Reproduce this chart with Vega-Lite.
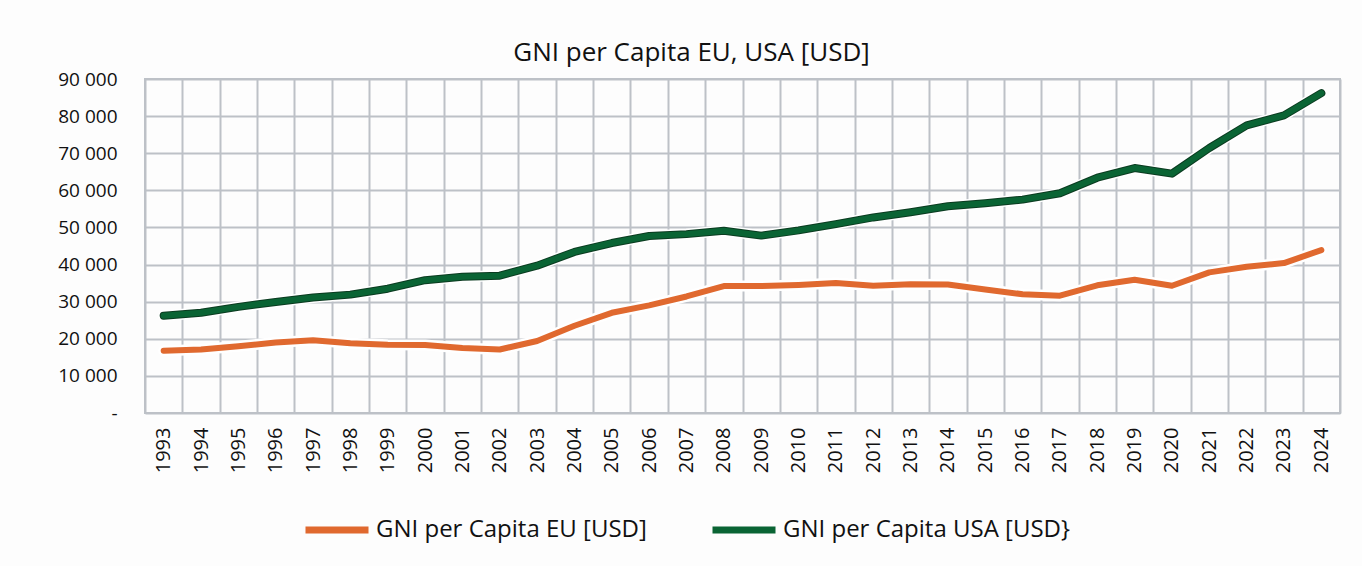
{
  "$schema": "https://vega.github.io/schema/vega-lite/v6.json",
  "width": 1195,
  "height": 334,
  "autosize": {"type": "none"},
  "padding": {"left": 145, "top": 79, "right": 22, "bottom": 153},
  "background": "#fdfdfd",
  "title": {"text": "GNI per Capita EU, USA [USD]", "font": "Open Sans", "fontSize": 26, "fontWeight": "normal", "color": "#111111", "anchor": "middle", "frame": "group", "dx": -51, "offset": 4},
  "data": {"values": [
    {"year": "1993", "series": "GNI per Capita EU [USD]", "value": 16800},
    {"year": "1994", "series": "GNI per Capita EU [USD]", "value": 17100},
    {"year": "1995", "series": "GNI per Capita EU [USD]", "value": 18000},
    {"year": "1996", "series": "GNI per Capita EU [USD]", "value": 19000},
    {"year": "1997", "series": "GNI per Capita EU [USD]", "value": 19600},
    {"year": "1998", "series": "GNI per Capita EU [USD]", "value": 18800},
    {"year": "1999", "series": "GNI per Capita EU [USD]", "value": 18400},
    {"year": "2000", "series": "GNI per Capita EU [USD]", "value": 18300},
    {"year": "2001", "series": "GNI per Capita EU [USD]", "value": 17500},
    {"year": "2002", "series": "GNI per Capita EU [USD]", "value": 17100},
    {"year": "2003", "series": "GNI per Capita EU [USD]", "value": 19400},
    {"year": "2004", "series": "GNI per Capita EU [USD]", "value": 23500},
    {"year": "2005", "series": "GNI per Capita EU [USD]", "value": 27000},
    {"year": "2006", "series": "GNI per Capita EU [USD]", "value": 29000},
    {"year": "2007", "series": "GNI per Capita EU [USD]", "value": 31400},
    {"year": "2008", "series": "GNI per Capita EU [USD]", "value": 34200},
    {"year": "2009", "series": "GNI per Capita EU [USD]", "value": 34200},
    {"year": "2010", "series": "GNI per Capita EU [USD]", "value": 34500},
    {"year": "2011", "series": "GNI per Capita EU [USD]", "value": 35000},
    {"year": "2012", "series": "GNI per Capita EU [USD]", "value": 34300},
    {"year": "2013", "series": "GNI per Capita EU [USD]", "value": 34700},
    {"year": "2014", "series": "GNI per Capita EU [USD]", "value": 34600},
    {"year": "2015", "series": "GNI per Capita EU [USD]", "value": 33300},
    {"year": "2016", "series": "GNI per Capita EU [USD]", "value": 32000},
    {"year": "2017", "series": "GNI per Capita EU [USD]", "value": 31600},
    {"year": "2018", "series": "GNI per Capita EU [USD]", "value": 34400},
    {"year": "2019", "series": "GNI per Capita EU [USD]", "value": 35900},
    {"year": "2020", "series": "GNI per Capita EU [USD]", "value": 34300},
    {"year": "2021", "series": "GNI per Capita EU [USD]", "value": 37900},
    {"year": "2022", "series": "GNI per Capita EU [USD]", "value": 39400},
    {"year": "2023", "series": "GNI per Capita EU [USD]", "value": 40400},
    {"year": "2024", "series": "GNI per Capita EU [USD]", "value": 43900},
    {"year": "1993", "series": "GNI per Capita USA [USD}", "value": 26200},
    {"year": "1994", "series": "GNI per Capita USA [USD}", "value": 27000},
    {"year": "1995", "series": "GNI per Capita USA [USD}", "value": 28600},
    {"year": "1996", "series": "GNI per Capita USA [USD}", "value": 29900},
    {"year": "1997", "series": "GNI per Capita USA [USD}", "value": 31100},
    {"year": "1998", "series": "GNI per Capita USA [USD}", "value": 31900},
    {"year": "1999", "series": "GNI per Capita USA [USD}", "value": 33500},
    {"year": "2000", "series": "GNI per Capita USA [USD}", "value": 35800},
    {"year": "2001", "series": "GNI per Capita USA [USD}", "value": 36700},
    {"year": "2002", "series": "GNI per Capita USA [USD}", "value": 37000},
    {"year": "2003", "series": "GNI per Capita USA [USD}", "value": 39700},
    {"year": "2004", "series": "GNI per Capita USA [USD}", "value": 43400},
    {"year": "2005", "series": "GNI per Capita USA [USD}", "value": 45800},
    {"year": "2006", "series": "GNI per Capita USA [USD}", "value": 47700},
    {"year": "2007", "series": "GNI per Capita USA [USD}", "value": 48200},
    {"year": "2008", "series": "GNI per Capita USA [USD}", "value": 49100},
    {"year": "2009", "series": "GNI per Capita USA [USD}", "value": 47800},
    {"year": "2010", "series": "GNI per Capita USA [USD}", "value": 49200},
    {"year": "2011", "series": "GNI per Capita USA [USD}", "value": 50900},
    {"year": "2012", "series": "GNI per Capita USA [USD}", "value": 52700},
    {"year": "2013", "series": "GNI per Capita USA [USD}", "value": 54100},
    {"year": "2014", "series": "GNI per Capita USA [USD}", "value": 55700},
    {"year": "2015", "series": "GNI per Capita USA [USD}", "value": 56500},
    {"year": "2016", "series": "GNI per Capita USA [USD}", "value": 57500},
    {"year": "2017", "series": "GNI per Capita USA [USD}", "value": 59200},
    {"year": "2018", "series": "GNI per Capita USA [USD}", "value": 63400},
    {"year": "2019", "series": "GNI per Capita USA [USD}", "value": 66000},
    {"year": "2020", "series": "GNI per Capita USA [USD}", "value": 64500},
    {"year": "2021", "series": "GNI per Capita USA [USD}", "value": 71400},
    {"year": "2022", "series": "GNI per Capita USA [USD}", "value": 77500},
    {"year": "2023", "series": "GNI per Capita USA [USD}", "value": 80200},
    {"year": "2024", "series": "GNI per Capita USA [USD}", "value": 86200}
  ]},
  "encoding": {
    "x": {
      "field": "year", "type": "ordinal", "bandPosition": 0.5,
      "scale": {"type": "band", "paddingInner": 0, "paddingOuter": 0},
      "axis": {"title": null, "labelAngle": -90, "labelFont": "Open Sans", "labelFontSize": 20, "labelColor": "#111111", "labelPadding": 14, "ticks": false, "domain": false, "tickBand": "extent", "grid": true, "gridColor": "#BDC1C7", "gridWidth": 2}
    },
    "y": {
      "field": "value", "type": "quantitative",
      "scale": {"domain": [0, 90000], "nice": false},
      "axis": {"title": null, "values": [0, 10000, 20000, 30000, 40000, 50000, 60000, 70000, 80000, 90000], "labelExpr": "datum.value == 0 ? '-' : replace(datum.label, ',', ' ')", "labelFont": "Open Sans", "labelFontSize": 19, "labelColor": "#111111", "labelPadding": 28, "ticks": false, "domain": false, "grid": true, "gridColor": "#BDC1C7", "gridWidth": 2}
    }
  },
  "layer": [
    {
      "mark": {"type": "line", "color": "#ffffff", "strokeWidth": 11, "strokeJoin": "round", "strokeCap": "round"},
      "encoding": {"detail": {"field": "series"}}
    },
    {
      "transform": [{"filter": "datum.series == 'GNI per Capita USA [USD}'"}],
      "mark": {"type": "line", "color": "#0b3b20", "strokeWidth": 8, "strokeJoin": "round", "strokeCap": "round"},
      "encoding": {"detail": {"field": "series"}}
    },
    {
      "mark": {"type": "line", "strokeWidth": 6, "strokeJoin": "round", "strokeCap": "round"},
      "encoding": {
        "color": {
          "field": "series", "type": "nominal",
          "scale": {"domain": ["GNI per Capita EU [USD]", "GNI per Capita USA [USD}"], "range": ["#E0692F", "#0A6434"]},
          "legend": {"orient": "none", "legendX": 157, "legendY": 416, "direction": "horizontal", "title": null, "symbolType": "stroke", "symbolSize": 3969, "symbolStrokeWidth": 7, "labelFont": "Open Sans", "labelFontSize": 24, "labelColor": "#111111", "labelOffset": 4, "columnPadding": 51, "labelLimit": 500}
        }
      }
    }
  ],
  "config": {"view": {"stroke": "#BDC1C7", "strokeWidth": 2}}
}
